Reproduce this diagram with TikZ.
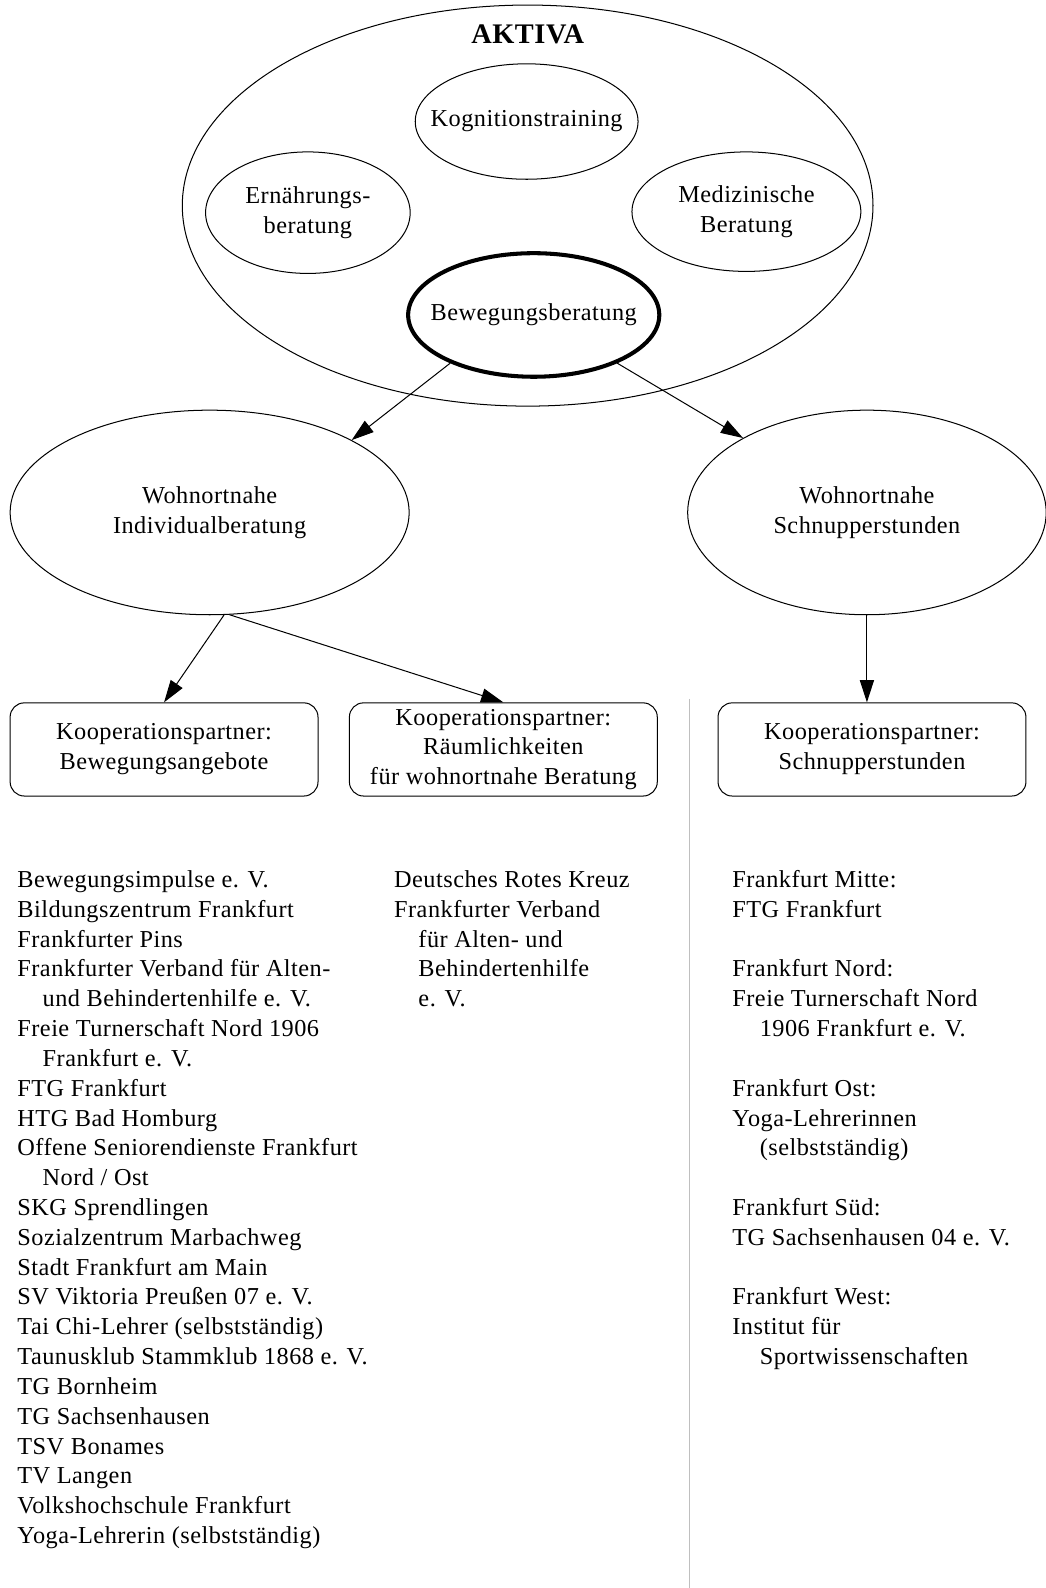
\documentclass[tikz,border=0pt]{standalone}
\usepackage{fontspec}
\setmainfont[LetterSpace=2]{Liberation Serif}
\usetikzlibrary{shapes.geometric,arrows.meta}
\begin{document}
\begin{tikzpicture}[x=1pt,y=-1pt,
  txt/.style={font=\fontsize{24}{29.45}\selectfont, align=center},
  oval/.style={ellipse, draw, line width=1pt, inner xsep=-60pt, inner ysep=-30pt, txt},
  kbox/.style={draw, rounded corners=14pt, line width=1pt, minimum width=304pt, minimum height=92pt, inner sep=0pt, txt},
  arr/.style={-{Triangle[length=22pt,width=14pt]}, line width=1pt},
  list/.style={anchor=north west, inner sep=0pt, align=left, font=\fontsize{24}{29.45}\selectfont}
]
\useasboundingbox (0,0) rectangle (1032,1568);
\fill[white] (0,0) rectangle (1032,1568);

% AKTIVA group
\node[oval, minimum width=682pt, minimum height=396pt] (aktiva) at (521,203) {};
\node[font=\fontsize{28}{30}\selectfont\bfseries, inner sep=0pt] (akt) at (521,34) {AKTIVA};
\node[oval, minimum width=220pt, minimum height=114pt] (kog) at (520,120) {Kognitionstraining};
\node[oval, minimum width=202pt, minimum height=120pt] (ern) at (304,210) {Ernährungs-\\beratung};
\node[oval, minimum width=226pt, minimum height=118pt] (med) at (737,209) {Medizinische\\Beratung};
\node[oval, line width=4pt, minimum width=248pt, minimum height=122pt] (bew) at (527,311) {Bewegungsberatung};

% second level
\node[oval, minimum width=394pt, minimum height=202pt] (ind) at (207,506) {Wohnortnahe\\Individualberatung};
\node[oval, minimum width=354pt, minimum height=202pt] (sch) at (856,506) {Wohnortnahe\\Schnupperstunden};

% boxes
\node[kbox] (b1) at (162,740) {Kooperationspartner:\\Bewegungsangebote};
\node[kbox] (b2) at (497,740) {Kooperationspartner:\\Räumlichkeiten\\für wohnortnahe Beratung};
\node[kbox] (b3) at (861,740) {Kooperationspartner:\\Schnupperstunden};

% connectors
\draw[arr] (bew.210) -- (ind.27);
\draw[arr] (bew.330) -- (sch.149);
\draw[arr] (ind.278) -- (b1.north);
\draw[arr] (ind.281) -- (b2.north);
\draw[arr] (sch.south) -- (sch.south |- b3.north);

% separator
\draw[black!25, line width=1.5pt] (681,690) -- (681,1568);

% lists
\node[list] (l1) at (17,855.4) {\strut Bewegungsimpulse e. V.\\
Bildungszentrum Frankfurt\\
Frankfurter Pins\\
Frankfurter Verband für Alten-\\
\hspace*{25pt}und Behindertenhilfe e. V.\\
Freie Turnerschaft Nord 1906\\
\hspace*{25pt}Frankfurt e. V.\\
FTG Frankfurt\\
HTG Bad Homburg\\
Offene Seniorendienste Frankfurt\\
\hspace*{25pt}Nord / Ost\\
SKG Sprendlingen\\
Sozialzentrum Marbachweg\\
Stadt Frankfurt am Main\\
SV Viktoria Preußen 07 e. V.\\
Tai Chi-Lehrer (selbstständig)\\
Taunusklub Stammklub 1868 e. V.\\
TG Bornheim\\
TG Sachsenhausen\\
TSV Bonames\\
TV Langen\\
Volkshochschule Frankfurt\\
Yoga-Lehrerin (selbstständig)};

\node[list] (l2) at (389,855.4) {\strut Deutsches Rotes Kreuz\\
Frankfurter Verband\\
\hspace*{24pt}für Alten- und\\
\hspace*{24pt}Behindertenhilfe\\
\hspace*{24pt}e. V.};

\node[list] (l3) at (723,855.4) {\strut Frankfurt Mitte:\\
FTG Frankfurt\\
\strut\\
Frankfurt Nord:\\
Freie Turnerschaft Nord\\
\hspace*{27pt}1906 Frankfurt e. V.\\
\strut\\
Frankfurt Ost:\\
Yoga-Lehrerinnen\\
\hspace*{27pt}(selbstständig)\\
\strut\\
Frankfurt Süd:\\
TG Sachsenhausen 04 e. V.\\
\strut\\
Frankfurt West:\\
Institut für\\
\hspace*{27pt}Sportwissenschaften};
\end{tikzpicture}
\end{document}
